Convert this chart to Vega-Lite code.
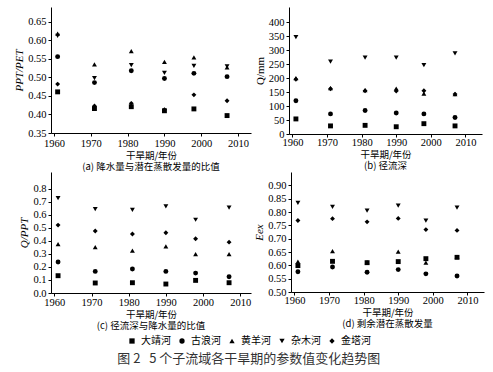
{
  "$schema": "https://vega.github.io/schema/vega-lite/v6.json",
  "padding": {"left": 13, "top": 7, "right": 5, "bottom": 4},
  "spacing": -4,
  "config": {
    "font": "Liberation Serif, Noto Sans CJK SC",
    "view": {"stroke": null},
    "axis": {"grid": false, "domainColor": "black", "tickColor": "black", "labelColor": "black", "titleColor": "black", "labelFont": "Liberation Serif", "labelFontSize": 10.5, "titleFontSize": 9.5, "titleFontWeight": "normal", "tickSize": 3, "domainWidth": 1, "labelPadding": 2},
    "axisX": {"titleFont": "Noto Sans CJK SC", "titlePadding": 2},
    "axisY": {"titleFont": "Liberation Serif", "titleFontStyle": "italic", "titleFontSize": 11, "titlePadding": 3},
    "title": {"font": "Noto Sans CJK SC", "fontSize": 9.5, "fontWeight": "normal", "color": "black"},
    "legend": {"labelFont": "Noto Sans CJK SC", "labelFontSize": 10, "symbolSize": 28, "symbolFillColor": "black", "symbolStrokeColor": "black", "symbolStrokeWidth": 0, "labelColor": "black", "layout": {"bottom": {"anchor": "middle"}}},
    "point": {"filled": true, "color": "black", "opacity": 1, "size": 24}
  },
  "datasets": {
    "d": [
      {"river": "大靖河", "year": 1961, "a": 0.461, "b": 54, "c": 0.133, "e": 0.599},
      {"river": "大靖河", "year": 1971, "a": 0.416, "b": 29, "c": 0.077, "e": 0.615},
      {"river": "大靖河", "year": 1981, "a": 0.421, "b": 31, "c": 0.079, "e": 0.610},
      {"river": "大靖河", "year": 1990, "a": 0.410, "b": 26, "c": 0.069, "e": 0.614},
      {"river": "大靖河", "year": 1998, "a": 0.415, "b": 37, "c": 0.097, "e": 0.625},
      {"river": "大靖河", "year": 2007, "a": 0.397, "b": 29, "c": 0.079, "e": 0.630},
      {"river": "古浪河", "year": 1961, "a": 0.556, "b": 119, "c": 0.238, "e": 0.576},
      {"river": "古浪河", "year": 1971, "a": 0.486, "b": 72, "c": 0.166, "e": 0.594},
      {"river": "古浪河", "year": 1981, "a": 0.518, "b": 84, "c": 0.184, "e": 0.574},
      {"river": "古浪河", "year": 1990, "a": 0.497, "b": 75, "c": 0.166, "e": 0.584},
      {"river": "古浪河", "year": 1998, "a": 0.511, "b": 72, "c": 0.153, "e": 0.568},
      {"river": "古浪河", "year": 2007, "a": 0.502, "b": 59, "c": 0.125, "e": 0.560},
      {"river": "黄羊河", "year": 1961, "a": 0.618, "b": 200, "c": 0.376, "e": 0.614},
      {"river": "黄羊河", "year": 1971, "a": 0.535, "b": 164, "c": 0.353, "e": 0.653},
      {"river": "黄羊河", "year": 1981, "a": 0.571, "b": 157, "c": 0.325, "e": 0.612},
      {"river": "黄羊河", "year": 1990, "a": 0.542, "b": 163, "c": 0.358, "e": 0.651},
      {"river": "黄羊河", "year": 1998, "a": 0.554, "b": 145, "c": 0.299, "e": 0.610},
      {"river": "黄羊河", "year": 2007, "a": 0.527, "b": 143, "c": 0.299, "e": 0.632},
      {"river": "杂木河", "year": 1961, "a": 0.612, "b": 347, "c": 0.729, "e": 0.834},
      {"river": "杂木河", "year": 1971, "a": 0.498, "b": 259, "c": 0.645, "e": 0.819},
      {"river": "杂木河", "year": 1981, "a": 0.533, "b": 274, "c": 0.639, "e": 0.805},
      {"river": "杂木河", "year": 1990, "a": 0.512, "b": 274, "c": 0.665, "e": 0.824},
      {"river": "杂木河", "year": 1998, "a": 0.531, "b": 247, "c": 0.563, "e": 0.768},
      {"river": "杂木河", "year": 2007, "a": 0.530, "b": 289, "c": 0.657, "e": 0.816},
      {"river": "金塔河", "year": 1961, "a": 0.482, "b": 196, "c": 0.522, "e": 0.768},
      {"river": "金塔河", "year": 1971, "a": 0.423, "b": 162, "c": 0.476, "e": 0.775},
      {"river": "金塔河", "year": 1981, "a": 0.430, "b": 155, "c": 0.453, "e": 0.763},
      {"river": "金塔河", "year": 1990, "a": 0.413, "b": 154, "c": 0.463, "e": 0.776},
      {"river": "金塔河", "year": 1998, "a": 0.453, "b": 155, "c": 0.417, "e": 0.734},
      {"river": "金塔河", "year": 2007, "a": 0.437, "b": 143, "c": 0.391, "e": 0.731}
    ]
  },
  "title": {"text": "图 2\u00a0\u00a0\u00a05 个子流域各干旱期的参数值变化趋势图", "orient": "bottom", "anchor": "middle", "fontSize": 13, "color": "#333333", "offset": 7},
  "resolve": {"scale": {"shape": "shared"}, "legend": {"shape": "shared"}},
  "vconcat": [
    {
      "hconcat": [
        {
          "width": 200, "height": 126,
          "data": {"name": "d"},
          "title": {"text": "(a) 降水量与潜在蒸散发量的比值", "orient": "bottom", "offset": 2},
          "mark": {"type": "point"},
          "encoding": {
            "x": {"field": "year", "type": "quantitative", "scale": {"domain": [1959.2, 2013.5], "nice": false, "zero": false}, "axis": {"values": [1960, 1970, 1980, 1990, 2000, 2010], "format": "d", "title": "干旱期/年份"}},
            "y": {"field": "a", "type": "quantitative", "scale": {"domain": [0.35, 0.69], "nice": false, "zero": false}, "axis": {"values": [0.35, 0.4, 0.45, 0.5, 0.55, 0.6, 0.65], "format": ".2f", "title": "PPT/PET"}},
            "shape": {"field": "river", "type": "nominal", "scale": {"domain": ["大靖河", "古浪河", "黄羊河", "杂木河", "金塔河"], "range": ["square", "circle", "triangle-up", "triangle-down", "diamond"]}, "legend": {"orient": "bottom", "direction": "horizontal", "columns": 5, "title": null, "columnPadding": 6, "offset": 5}}
          }
        },
        {
          "width": 193, "height": 127,
          "data": {"name": "d"},
          "title": {"text": "(b) 径流深", "orient": "bottom", "offset": 2},
          "mark": {"type": "point"},
          "encoding": {
            "x": {"field": "year", "type": "quantitative", "scale": {"domain": [1959.0, 2014.8], "nice": false, "zero": false}, "axis": {"values": [1960, 1970, 1980, 1990, 2000, 2010], "format": "d", "title": "干旱期/年份", "labelPadding": 0}},
            "y": {"field": "b", "type": "quantitative", "scale": {"domain": [0, 455], "nice": false}, "axis": {"values": [0, 50, 100, 150, 200, 250, 300, 350, 400], "title": "Q/mm", "titleFontStyle": "normal"}},
            "shape": {"field": "river", "type": "nominal", "scale": {"domain": ["大靖河", "古浪河", "黄羊河", "杂木河", "金塔河"], "range": ["square", "circle", "triangle-up", "triangle-down", "diamond"]}, "legend": {"orient": "bottom", "direction": "horizontal", "columns": 5, "title": null, "columnPadding": 6, "offset": 5}}
          }
        }
      ],
      "spacing": 38,
      "bounds": "flush"
    },
    {
      "hconcat": [
        {
          "width": 200, "height": 121,
          "data": {"name": "d"},
          "title": {"text": "(c) 径流深与降水量的比值", "orient": "bottom", "offset": 2},
          "mark": {"type": "point"},
          "encoding": {
            "x": {"field": "year", "type": "quantitative", "scale": {"domain": [1959.1, 2012.9], "nice": false, "zero": false}, "axis": {"values": [1960, 1970, 1980, 1990, 2000, 2010], "format": "d", "title": "干旱期/年份", "labelPadding": 1}},
            "y": {"field": "c", "type": "quantitative", "scale": {"domain": [0, 0.93], "nice": false}, "axis": {"values": [0, 0.1, 0.2, 0.3, 0.4, 0.5, 0.6, 0.7, 0.8], "format": ".1f", "title": "Q/PPT"}},
            "shape": {"field": "river", "type": "nominal", "scale": {"domain": ["大靖河", "古浪河", "黄羊河", "杂木河", "金塔河"], "range": ["square", "circle", "triangle-up", "triangle-down", "diamond"]}, "legend": {"orient": "bottom", "direction": "horizontal", "columns": 5, "title": null, "columnPadding": 6, "offset": 5}}
          }
        },
        {
          "width": 193, "height": 120,
          "data": {"name": "d"},
          "title": {"text": "(d) 剩余潜在蒸散发量", "orient": "bottom", "offset": 2},
          "mark": {"type": "point"},
          "encoding": {
            "x": {"field": "year", "type": "quantitative", "scale": {"domain": [1959.0, 2014.8], "nice": false, "zero": false}, "axis": {"values": [1960, 1970, 1980, 1990, 2000, 2010], "format": "d", "title": "干旱期/年份", "labelPadding": 0}},
            "y": {"field": "e", "type": "quantitative", "scale": {"domain": [0.5, 0.95], "nice": false, "zero": false}, "axis": {"values": [0.5, 0.55, 0.6, 0.65, 0.7, 0.75, 0.8, 0.85, 0.9], "format": ".2f", "title": "Eex"}},
            "shape": {"field": "river", "type": "nominal", "scale": {"domain": ["大靖河", "古浪河", "黄羊河", "杂木河", "金塔河"], "range": ["square", "circle", "triangle-up", "triangle-down", "diamond"]}, "legend": {"orient": "bottom", "direction": "horizontal", "columns": 5, "title": null, "columnPadding": 6, "offset": 5}}
          }
        }
      ],
      "spacing": 40,
      "bounds": "flush"
    }
  ]
}
